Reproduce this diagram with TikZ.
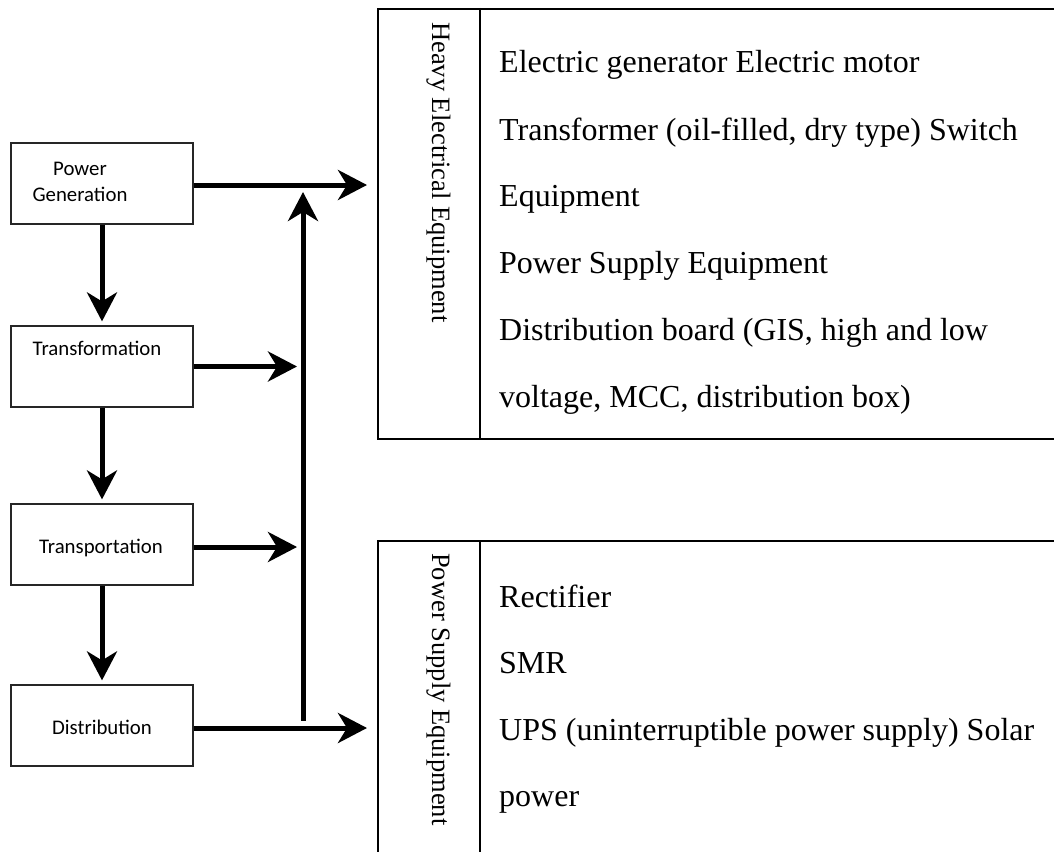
\documentclass[tikz,border=0pt]{standalone}
\usepackage{fontspec}
\setmainfont{Liberation Serif}
\newfontfamily\boxfont{Carlito}
\usetikzlibrary{arrows.meta}
\begin{document}
\begin{tikzpicture}[x=1pt,y=-1pt,
  stagebox/.style={draw=black!85, line width=1.2pt, minimum width=182pt, minimum height=81pt, inner sep=0pt},
  stagetext/.style={font=\boxfont\fontsize{20.8}{25}\selectfont, anchor=base, inner sep=0pt},
  arr/.style={line width=5pt, -{Stealth[length=29pt,width=30pt,inset=9pt]}},
  tframe/.style={draw=black, line width=1.8pt, inner sep=0pt, anchor=north west},
  tline/.style={draw=black, line width=1.8pt},
  vlab/.style={font=\fontsize{26.5}{30}\selectfont, rotate=-90, anchor=base west, inner sep=0pt},
  item/.style={font=\fontsize{32}{38}\selectfont, anchor=base west, inner sep=0pt}]
\useasboundingbox (0,0) rectangle (1054,851);

% stage boxes
\node[stagebox] (pg) at (102,183.5) {};
\node[stagebox] (tf) at (102,366.5) {};
\node[stagebox] (tp) at (102,544.5) {};
\node[stagebox] (di) at (102,725.5) {};

\node[stagetext] (pgt1) at (80,175.7) {Power};
\node[stagetext] (pgt2) at (80,201.7) {Generation};
\node[stagetext] (tft) at (97,355.7) {Transformation};
\node[stagetext] (tpt) at (101,553) {Transportation};
\node[stagetext] (dit) at (102,734) {Distribution};

% table frames
\node[tframe, minimum width=720pt, minimum height=430pt] (heavy) at (377,8) {};
\node[tframe, minimum width=720pt, minimum height=400pt] (psup) at (377,540) {};
\draw[tline] (480,8) -- (480,438);
\draw[tline] (480,540) -- (480,900);

% vertical labels
\node[vlab] (hlab) at (432,22) {Heavy Electrical Equipment};
\node[vlab] (plab) at (432,553) {Power Supply Equipment};

% items
\node[item] (h1) at (499,73) {Electric generator Electric motor};
\node[item] (h2) at (499,140) {Transformer (oil-filled, dry type) Switch};
\node[item] (h3) at (499,206) {Equipment};
\node[item] (h4) at (499,273) {Power Supply Equipment};
\node[item] (h5) at (499,340) {Distribution board (GIS, high and low};
\node[item] (h6) at (499,407) {voltage, MCC, distribution box)};

\node[item] (p1) at (499,607) {Rectifier};
\node[item] (p2) at (499,673) {SMR};
\node[item] (p3) at (499,740) {UPS (uninterruptible power supply) Solar};
\node[item] (p4) at (499,806) {power};

% connectors
\coordinate (busb) at (303,723);
\coordinate (bust) at (303,192);

\draw[arr, shorten >=4pt] (pg.south) -- (tf.north);
\draw[arr, shorten >=4pt] (tf.south) -- (tp.north);
\draw[arr, shorten >=4pt] (tp.south) -- (di.north);

\draw[arr, shorten >=10pt] ([yshift=-1.5pt]pg.east) -- ([yshift=-1.5pt]pg.east -| heavy.west);
\draw[arr, shorten >=6pt] (tf.east) -- (tf.east -| busb);
\draw[arr, shorten >=6pt] ([yshift=-2.5pt]tp.east) -- ([yshift=-2.5pt]tp.east -| busb);
\draw[arr, shorten >=10pt] ([yshift=-2.5pt]di.east) -- ([yshift=-2.5pt]di.east -| psup.west);
\draw[arr] ([yshift=2.5pt]busb) -- (bust);
\end{tikzpicture}
\end{document}
